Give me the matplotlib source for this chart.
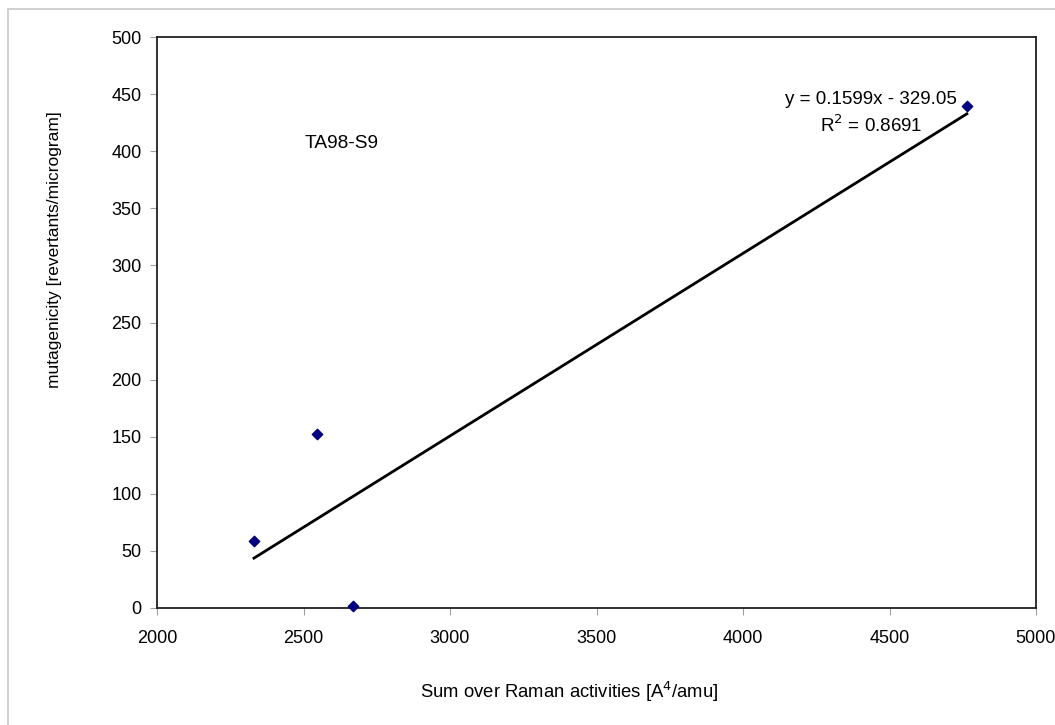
import numpy as np
import matplotlib.pyplot as plt
from matplotlib.patches import Rectangle

plt.rcParams['font.family'] = ['Liberation Sans', 'DejaVu Sans']

# data points
raman_sum = [2331, 2546, 2669, 4764]
mutagenicity = [59, 152, 2, 440]

# trendline as printed on the chart
slope = 0.1599
intercept = -329.05
r_squared = 0.8691

x_ticks = [2000, 2500, 3000, 3500, 4000, 4500, 5000]
y_ticks = [0, 50, 100, 150, 200, 250, 300, 350, 400, 450, 500]

fig = plt.figure(figsize=(10.55, 7.25), dpi=100)
fig.patches.append(Rectangle((8 / 1055, -0.1), 1.2, 1 - 9 / 725 + 0.1,
                             transform=fig.transFigure, fill=False,
                             edgecolor='#c8c8c8', linewidth=1.2))

ax = fig.add_axes([157 / 1055, 1 - 608 / 725, (1036 - 157) / 1055, (608 - 37) / 725])

# trendline over the data range
xs = np.array([min(raman_sum), max(raman_sum)])
ax.plot(xs, slope * xs + intercept, color='black', linewidth=2.0, zorder=2)
ax.scatter(raman_sum, mutagenicity, marker='D', s=28, color='#000080', zorder=3,
           clip_on=False)

ax.set_xlim(2000, 5000)
ax.set_ylim(0, 500)
ax.set_xticks(x_ticks)
ax.set_yticks(y_ticks)
ax.tick_params(labelsize=13, length=5, width=0.8, color='#a0a0a0')
ax.tick_params(axis='x', pad=11)
ax.tick_params(axis='y', pad=6)
for side in ax.spines.values():
    side.set_linewidth(1.3)
    side.set_color('#202020')

ax.text(2630, 407, 'TA98-S9', fontsize=13.8, ha='center', va='center')
ax.text(4437, 433, 'y = 0.1599x - 329.05\nR$^2$ = %.4f' % r_squared, fontsize=13.5,
        ha='center', va='center', linespacing=1.4)

fig.text(55 / 1055, 1 - 388 / 725, 'mutagenicity [revertants/microgram]',
         rotation=90, fontsize=12.5, ha='center', va='bottom')
fig.text(569 / 1055, 1 - 692 / 725, 'Sum over Raman activities [A$^4$/amu]',
         fontsize=13.3, ha='center', va='center')

fig.savefig('out.png', dpi=100)
